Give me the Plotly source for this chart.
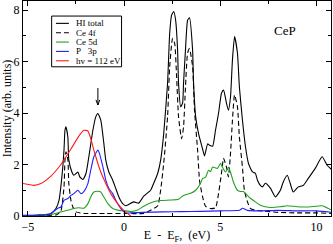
import plotly.graph_objects as go

# ---- data ----
hi_x = [-5.25, -4.5, -3.8, -3.54, -3.38, -3.23, -3.12, -3.07, -3.02, -2.92, -2.87, -2.71, -2.61, -2.40, -2.30, -2.14,
        -1.98, -1.83, -1.62, -1.47, -1.36, -1.21, -1.05, -0.95, -0.79, -0.59, -0.43, -0.27, -0.07, 0.09, 0.24, 0.50,
        0.76, 1.02, 1.38, 1.54, 1.75, 1.90, 2.06, 2.26, 2.37, 2.47, 2.58, 2.68, 2.78, 2.83, 2.94, 3.04, 3.09, 3.19,
        3.30, 3.40, 3.56, 3.61, 3.72, 3.87, 4.08, 4.18, 4.34, 4.44, 4.60, 4.75, 4.91, 5.06, 5.17, 5.32, 5.42, 5.53,
        5.63, 5.74, 5.89, 5.99, 6.15, 6.31, 6.46, 6.67, 6.82, 6.93, 7.08, 7.19, 7.34, 7.60, 7.86, 8.12, 8.27, 8.48,
        8.63, 8.79, 9.05, 9.31, 9.57, 9.93, 10.29, 10.55, 10.81]
hi_y = [0.03, 0.04, 0.09, 0.29, 0.61, 1.52, 2.56, 3.33, 3.46, 3.07, 2.17, 1.71, 1.58, 1.71, 1.52, 1.42,
        1.65, 2.30, 3.33, 3.85, 3.98, 3.72, 2.82, 2.17, 1.71, 1.39, 1.07, 0.74, 0.48, 0.40, 0.45, 0.55,
        0.50, 0.77, 1.00, 1.27, 1.66, 2.17, 3.20, 5.16, 7.10, 7.80, 7.94, 7.60, 6.45, 5.16, 4.24, 4.38, 5.16, 6.45,
        7.60, 7.70, 6.45, 5.16, 3.85, 3.20, 2.60, 2.33, 2.80, 2.75, 2.71, 3.33, 4.00, 4.77, 4.89, 4.38, 4.11, 4.63,
        6.06, 6.97, 6.33, 5.02, 3.72, 2.68, 2.05, 1.71, 1.66, 1.39, 1.19, 1.13, 1.27, 1.08, 0.74, 1.00, 1.32, 1.58,
        1.27, 0.93, 1.13, 1.19, 1.46, 1.85, 2.30, 1.97, 1.78]

f4_x = [-5.25, -4.0, -3.5, -3.28, -3.12, -3.07, -3.02, -2.92, -2.87, -2.76, -2.66, -2.50, -2.09, -1.0, 0.0, 1.0,
        1.38, 1.75, 1.90, 2.06, 2.26, 2.37, 2.52, 2.63, 2.73, 2.83, 2.99, 3.09, 3.19, 3.30, 3.40, 3.56, 3.66, 3.82,
        3.92, 4.08, 4.23, 4.49, 4.75, 4.91, 5.06, 5.17, 5.32, 5.42, 5.53, 5.63, 5.74, 5.89, 5.99, 6.15, 6.25, 6.41,
        6.56, 6.82, 7.19, 8.0, 9.0, 10.0, 10.81]
f4_y = [0.02, 0.02, 0.05, 0.20, 1.13, 2.17, 2.49, 2.20, 1.26, 0.61, 0.35, 0.16, 0.10, 0.10, 0.10, 0.10,
        0.22, 0.40, 1.00, 2.05, 3.85, 5.80, 6.90, 6.70, 5.40, 3.85, 3.00, 3.46, 5.00, 6.33, 6.50, 5.80, 4.10, 2.56,
        1.39, 0.74, 0.38, 0.29, 0.32, 0.88, 1.66, 2.24, 1.90, 1.52, 2.44, 3.72, 4.70, 4.24, 3.07, 1.90, 1.00, 0.55,
        0.30, 0.22, 0.20, 0.14, 0.12, 0.12, 0.10]

d5_x = [-5.25, -4.5, -3.8, -3.28, -2.92, -2.61, -2.35, -2.09, -1.88, -1.73, -1.57, -1.36, -1.21, -1.05, -0.84,
        -0.59, -0.27, 0.09, 0.35, 0.71, 1.02, 1.54, 1.90, 2.42, 2.83, 3.09, 3.46, 3.72, 3.97, 4.08, 4.23, 4.39, 4.49,
        4.60, 4.85, 5.01, 5.11, 5.27, 5.42, 5.58, 5.68, 5.89, 6.05, 6.20, 6.41, 6.56, 6.82, 7.08, 7.60, 8.12, 8.48,
        9.00, 9.52, 10.03, 10.29, 10.81]
d5_y = [0.02, 0.03, 0.06, 0.16, 0.22, 0.29, 0.32, 0.30, 0.48, 0.74, 0.93, 0.96, 0.93, 0.74, 0.48,
        0.29, 0.22, 0.20, 0.17, 0.23, 0.38, 0.55, 0.60, 0.62, 0.65, 0.80, 0.88, 1.00, 1.26, 1.46, 1.50, 1.78, 1.72,
        1.90, 1.85, 2.05, 1.90, 1.71, 1.90, 1.58, 1.32, 1.00, 0.95, 0.95, 0.80, 0.69, 0.55, 0.42, 0.33, 0.36, 0.40,
        0.36, 0.35, 0.38, 0.40, 0.22]

p3_x = [-5.25, -4.0, -3.8, -3.44, -3.28, -3.12, -2.92, -2.76, -2.61, -2.40, -2.24, -2.09, -1.88, -1.73, -1.57,
        -1.36, -1.31, -1.10, -0.95, -0.79, -0.59, -0.43, -0.17, 0.09, 0.35, 1.0, 2.0, 3.0, 4.0, 5.0, 6.0, 6.15,
        6.40, 7.0, 8.0, 9.0, 10.0, 10.81]
p3_y = [0.02, 0.04, 0.10, 0.30, 0.35, 0.61, 0.68, 0.80, 0.87, 1.00, 0.87, 0.95, 1.26, 1.78, 2.30,
        2.56, 2.50, 1.91, 1.39, 1.07, 0.87, 0.61, 0.29, 0.12, 0.12, 0.14, 0.16, 0.17, 0.18, 0.20, 0.22, 0.30,
        0.22, 0.20, 0.22, 0.20, 0.20, 0.14]

hv_x = [-5.25, -4.68, -4.32, -3.8, -3.28, -2.76, -2.35, -2.09, -1.88, -1.73, -1.57, -1.36, -1.21, -0.95, -0.69,
        -0.33, -0.02, 0.35]
hv_y = [1.26, 1.19, 1.26, 1.55, 2.00, 2.60, 3.10, 3.33, 3.30, 3.01, 2.56, 2.04, 1.71, 1.26, 0.87,
        0.48, 0.22, 0.00]

names = ["HI total", "Ce 4f", "Ce 5d", "P\u00a0\u00a0\u00a03p", "hv = 112 eV"]
colors = ["black", "black", "#22a022", "#2020ff", "#ff1a1a"]
dashes = ["solid", "5px,3px", "solid", "solid", "solid"]
series = [(hi_x, hi_y), (f4_x, f4_y), (d5_x, d5_y), (p3_x, p3_y), (hv_x, hv_y)]

# arrow marking the feature at E - EF = -1.36 eV
arrow_x, arrow_top, arrow_tip = -1.36, 4.97, 4.31

serif = "Liberation Serif"
fig = go.Figure()
for (xs, ys), n, c, d in zip(series, names, colors, dashes):
    fig.add_trace(go.Scatter(x=xs, y=ys, mode="lines", name=n, showlegend=False,
                             line=dict(color=c, width=1.1, dash=d, shape="spline", smoothing=0.5)))

# custom compact legend (paper coordinates)
lx0, lx1, ly0, ly1 = 0.093, 0.320, 0.694, 0.930
fig.add_shape(type="rect", xref="paper", yref="paper", x0=lx0, x1=lx1, y0=ly0, y1=ly1,
              line=dict(color="black", width=1), fillcolor="white", layer="above")
for i, (n, c, d) in enumerate(zip(names, colors, dashes)):
    yy = 0.896 - i * 0.0435
    fig.add_shape(type="line", xref="paper", yref="paper", x0=0.107, x1=0.149, y0=yy, y1=yy,
                  line=dict(color=c, width=1.1, dash=d), layer="above")
    fig.add_annotation(xref="paper", yref="paper", x=0.166, y=yy, text=n, showarrow=False,
                       xanchor="left", yanchor="middle", font=dict(family=serif, size=9, color="black"))

# arrow drawn as a path
fig.add_shape(type="path", xref="x", yref="y",
              path=(f"M {arrow_x},{arrow_top} L {arrow_x},{arrow_tip} "
                    f"M {arrow_x - 0.1},{arrow_tip + 0.2} L {arrow_x},{arrow_tip} L {arrow_x + 0.1},{arrow_tip + 0.2}"),
              line=dict(color="black", width=1))
fig.add_annotation(x=8.38, y=7.22, xref="x", yref="y", text="CeP", showarrow=False,
                   font=dict(family=serif, size=13, color="black"))

axis_common = dict(showgrid=False, zeroline=False, showline=True, linecolor="black", linewidth=1,
                   mirror="ticks", ticks="inside", ticklen=5, tickcolor="black", tickwidth=1, automargin=False,
                   tickfont=dict(family=serif, size=12, color="black"))
fig.update_xaxes(range=[-5.25, 10.75], tick0=0, dtick=5,
                 minor=dict(dtick=2.5, ticks="inside", ticklen=3, tickcolor="black"),
                 title=dict(text="E\u00a0\u00a0-\u00a0\u00a0E<sub>F</sub>,\u00a0\u00a0(eV)",
                            font=dict(family=serif, size=12, color="black"), standoff=0),
                 **axis_common)
fig.update_yaxes(range=[0, 8.35], tick0=0, dtick=2,
                 minor=dict(dtick=1, ticks="inside", ticklen=3, tickcolor="black"),
                 title=dict(text="Intensity (arb. units)", font=dict(family=serif, size=12, color="black"),
                            standoff=0),
                 **axis_common)
fig.update_layout(width=333, height=244, margin=dict(l=23, r=2, t=1, b=28),
                  paper_bgcolor="white", plot_bgcolor="white", showlegend=False)
fig.write_html("out.html", config={"displayModeBar": False, "staticPlot": True},
               post_script="document.body.style.margin='0';document.body.style.overflow='hidden';")
